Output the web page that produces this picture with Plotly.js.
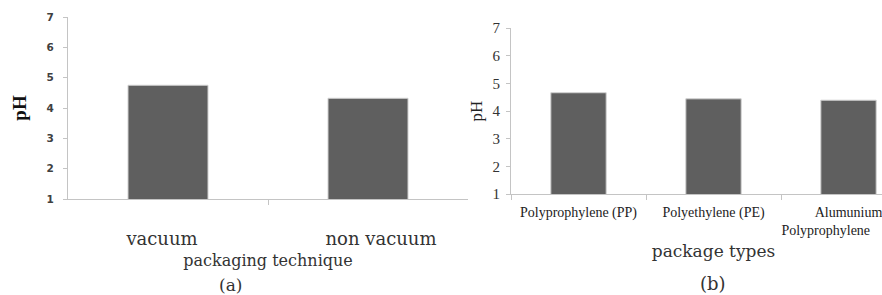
<!DOCTYPE html>
<html>
<head>
<meta charset="utf-8">
<script src="https://cdn.plot.ly/plotly-3.0.1.min.js"></script>
<style>
html,body{margin:0;padding:0;overflow:hidden;background:#fff;}
#plot{width:920px;height:295px;}
</style>
</head>
<body>
<div id="plot"></div>
<script>
// Panel (a): packaging technique
const techniques = ['vacuum', 'non vacuum'];
const phTechnique = [4.75, 4.32];
// Panel (b): package types
const packageTypes = ['Polyprophylene (PP)', 'Polyethylene (PE)', 'Alumunium<br>Polyprophylene\u00a0\u00a0\u00a0\u00a0\u00a0\u00a0\u00a0\u00a0\u00a0\u00a0\u00a0\u00a0\u00a0'];
const phPackage = [4.66, 4.44, 4.39];
// Shared y ticks
const yTicks = [1, 2, 3, 4, 5, 6, 7];

const W = 920, H = 295;
const px = v => v / W;
const py = v => 1 - v / H;

const barStyle = {color: '#5f5f5f', line: {color: '#d0d0d0', width: 1}};
const idxA = techniques.map((_, i) => i);

const traces = [
  {type: 'bar', x: idxA, y: phTechnique, xaxis: 'x', yaxis: 'y',
   marker: barStyle, width: 0.4, text: techniques, hoverinfo: 'text+y',
   textposition: 'none', showlegend: false},
  {type: 'bar', x: packageTypes, y: phPackage, xaxis: 'x2', yaxis: 'y2',
   marker: barStyle, width: 0.41, hoverinfo: 'x+y', showlegend: false}
];

const serif = 'Liberation Serif, Times New Roman, serif';

const layout = {
  width: W, height: H,
  margin: {l: 0, r: 0, t: 0, b: 0, pad: 0},
  paper_bgcolor: '#fff', plot_bgcolor: '#fff',
  xaxis: {
    domain: [px(68), px(468)], anchor: 'y',
    range: [-0.5, 1.5],
    tickmode: 'array', tickvals: [idxA[0] - 0.03, idxA[1] + 0.065], ticktext: techniques,
    ticks: '', tickangle: 0,
    minor: {tickmode: 'array', tickvals: [0.5], ticks: 'outside', ticklen: 5, tickcolor: '#c4c4c4', showgrid: false},
    showline: true, linecolor: '#c4c4c4', linewidth: 1,
    showgrid: false, zeroline: false,
    tickfont: {family: 'DejaVu Serif, serif', size: 18, color: '#333'},
    ticklabelstandoff: 23,
    title: {text: 'packaging technique', standoff: 7,
            font: {family: 'DejaVu Serif, serif', size: 16, color: '#333'}}
  },
  yaxis: {
    domain: [py(199), py(17)], anchor: 'x',
    range: [1, 7], tickvals: yTicks, ticktext: yTicks.map(String),
    showline: true, linecolor: '#c4c4c4', linewidth: 1,
    ticks: 'outside', ticklen: 4, tickcolor: '#c4c4c4',
    ticklabelstandoff: 7,
    showgrid: false, zeroline: false,
    tickfont: {family: 'DejaVu Sans, sans-serif', size: 10.5, color: '#404040', weight: 'bold'},
    title: {text: '<b>pH</b>', standoff: 14,
            font: {family: serif, size: 19, color: '#111'}}
  },
  xaxis2: {
    domain: [px(511), px(916)], anchor: 'y2',
    type: 'category', range: [-0.5, 2.5],
    showline: true, linecolor: '#c4c4c4', linewidth: 1,
    ticks: 'outside', tickson: 'boundaries', ticklen: 5, tickcolor: '#c4c4c4',
    tickangle: 0,
    showgrid: false, zeroline: false,
    tickfont: {family: serif, size: 14, color: '#222'},
    ticklabelstandoff: 5,
    title: {text: 'package types', standoff: 8,
            font: {family: 'DejaVu Serif, serif', size: 17, color: '#333'}}
  },
  yaxis2: {
    domain: [py(194), py(28)], anchor: 'x2',
    range: [1, 7], tickvals: yTicks, ticktext: yTicks.map(String),
    showline: true, linecolor: '#c4c4c4', linewidth: 1,
    ticks: 'outside', ticklen: 4, tickcolor: '#c4c4c4',
    ticklabelstandoff: 3,
    showgrid: false, zeroline: false,
    tickfont: {family: serif, size: 15, color: '#333'},
    title: {text: 'pH', standoff: 5,
            font: {family: serif, size: 17, color: '#222'}}
  },
  annotations: [
    {text: '(a)', xref: 'paper', yref: 'paper', x: px(230), y: py(285),
     xanchor: 'center', yanchor: 'middle', showarrow: false,
     font: {family: 'DejaVu Serif, serif', size: 17, color: '#333'}},
    {text: '(b)', xref: 'paper', yref: 'paper', x: px(713), y: py(283),
     xanchor: 'center', yanchor: 'middle', showarrow: false,
     font: {family: 'DejaVu Serif, serif', size: 18, color: '#333'}}
  ]
};

Plotly.newPlot('plot', traces, layout, {displayModeBar: false, staticPlot: true});
</script>
</body>
</html>
